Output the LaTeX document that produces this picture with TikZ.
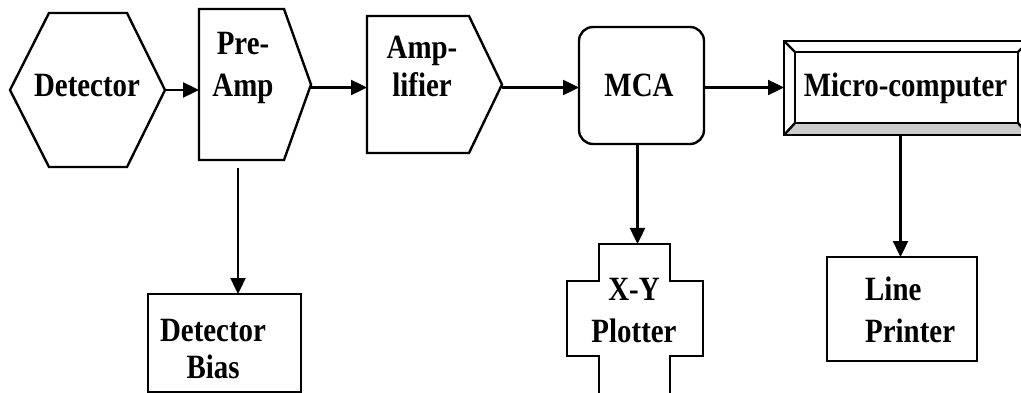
\documentclass[tikz,border=0pt]{standalone}
\usepackage{fontspec}
\setmainfont{Liberation Serif}[FakeStretch=0.85]
\usetikzlibrary{arrows.meta}
\begin{document}
\begin{tikzpicture}[x=1pt,y=-1pt,line width=2.4pt]
        \tikzstyle{frame}=[inner sep=0pt,outer sep=0pt]
        \tikzstyle{box}=[frame,draw]
        \tikzstyle{txt}=[font=\bfseries\fontsize{34}{40}\selectfont,inner sep=0pt,anchor=base,align=center]
        \tikzstyle{conn}=[draw,-{Triangle[length=16pt,width=15pt]}]
        \useasboundingbox (0,0) rectangle (1021,393);

        % blocks of the top row
        \node [frame,minimum width=155pt,minimum height=154pt] (det) at (87.5,90) {};
        \node [frame,minimum width=112pt,minimum height=151pt] (pre) at (255,84.5) {};
        \node [frame,minimum width=135pt,minimum height=137pt] (amp) at (434.5,84.5) {};
        \node [box,rounded corners=14pt,minimum width=125pt,minimum height=117pt] (mca) at (641.5,85.5) {};
        \node [frame,minimum width=245pt,minimum height=94pt] (mic) at (906.5,88) {};

        % blocks of the bottom row
        \node [box,minimum width=153pt,minimum height=98pt] (bias) at (224.5,343) {};
        \node [frame,minimum width=136pt,minimum height=152pt] (plot) at (635,320) {};
        \node [box,minimum width=150pt,minimum height=104pt] (lp) at (902,309) {};

        % outlines
        \draw (det.west) -- ([xshift=39pt]det.north west) -- ([xshift=-38pt]det.north east) -- (det.east)
              -- ([xshift=-38pt]det.south east) -- ([xshift=39pt]det.south west) -- cycle;
        \draw (pre.north west) -- ([xshift=-27pt]pre.north east) -- (pre.east)
              -- ([xshift=-27pt]pre.south east) -- (pre.south west) -- cycle;
        \draw (amp.north west) -- ([xshift=-33pt]amp.north east) -- (amp.east)
              -- ([xshift=-33pt]amp.south east) -- (amp.south west) -- cycle;
        \fill [black!20] ([xshift=11pt,yshift=12pt]mic.south west) -- ([xshift=-11pt,yshift=12pt]mic.south east)
              -- (mic.south east) -- (mic.south west) -- cycle;
        \draw (mic.south west) rectangle (mic.north east);
        \draw ([xshift=11pt,yshift=12pt]mic.south west) rectangle ([xshift=-11pt,yshift=-11pt]mic.north east);
        \draw (mic.north west) -- ([xshift=11pt,yshift=-11pt]mic.north west);
        \draw (mic.south west) -- ([xshift=11pt,yshift=12pt]mic.south west);
        \draw (mic.north east) -- ([xshift=-11pt,yshift=-11pt]mic.north east);
        \draw (mic.south east) -- ([xshift=-11pt,yshift=12pt]mic.south east);
        \draw ([xshift=32pt]plot.north west) -- ([xshift=-33pt]plot.north east)
              -- ([xshift=-33pt,yshift=-37pt]plot.north east) -- ([yshift=-37pt]plot.north east)
              -- ([yshift=-112pt]plot.north east) -- ([xshift=-33pt,yshift=-112pt]plot.north east)
              -- ([xshift=-33pt]plot.south east) -- ([xshift=32pt]plot.south west)
              -- ([xshift=32pt,yshift=-112pt]plot.north west) -- ([yshift=-112pt]plot.north west)
              -- ([yshift=-37pt]plot.north west) -- ([xshift=32pt,yshift=-37pt]plot.north west) -- cycle;

        % texts (base = last line)
        \node [txt] (detT) at (87,97) {Detector};
        \node [txt] (preT) at (243,97) {Pre-\\[2pt]Amp};
        \node [txt] (ampT) at (422,97) {Amp-\\[-2pt]lifier};
        \node [txt] (mcaT) at (639,97) {MCA};
        \node [txt] (micT) at (905.5,97) {Micro-computer};
        \node [txt] (biasT) at (213,378) {Detector\\[-3pt]Bias};
        \node [txt] (plotT) at (634,342) {X-Y\\[2pt]Plotter};
        \node [txt,anchor=base west,align=left] (lpT) at (864,342) {Line\\[2pt]Printer};

        % connectors
        \path[conn] (det.east) -- (det.east -| pre.west);
        \path[conn] ([yshift=-3pt]pre.east) -- ([yshift=-3pt]pre.east -| amp.west);
        \path[conn] ([yshift=-3pt]amp.east) -- ([yshift=-3pt]amp.east -| mca.west);
        \path[conn] ([yshift=-2pt]mca.east) -- ([yshift=-2pt]mca.east -| mic.west);
        \path[conn] ([xshift=-17pt,yshift=-8pt]pre.south) -- ([xshift=-17pt]pre.south |- bias.north);
        \path[conn] ([xshift=-4pt]mca.south) -- ([xshift=-4pt]mca.south |- plot.north);
        \path[conn] ([xshift=-6pt]mic.south) -- ([xshift=-6pt]mic.south |- lp.north);
\end{tikzpicture}
\end{document}
